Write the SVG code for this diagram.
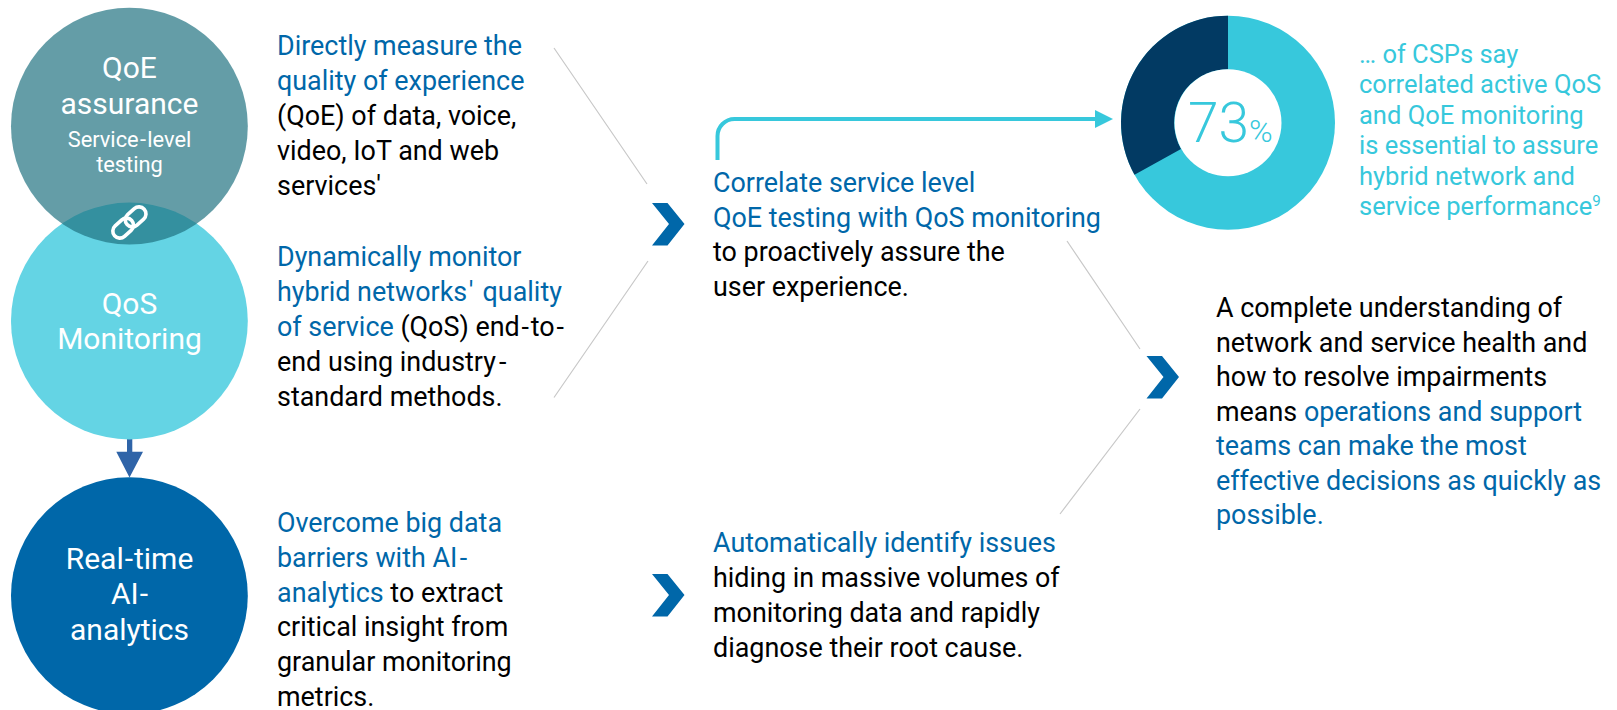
<svg xmlns="http://www.w3.org/2000/svg" width="1617" height="710" viewBox="0 0 1617 710">
<style>
text{font-family:Roboto,"Liberation Sans",sans-serif}
.b{font-size:26.9px;fill:#000}
.h{fill:#0067a9}
.c{font-size:25.5px;fill:#37c8dc}
.n{fill:#fff;text-anchor:middle;font-size:30px}
.s{fill:#fff;text-anchor:middle;font-size:21.800px}
.g{stroke:#c8c8c8;stroke-width:1.2;fill:none}
.v{fill:#0067a9}
</style>
<defs><path id="chev" d="M0 0H15.500L32.500 21L15.500 42.500H0L17 21Z"/></defs>
<g id="connectors">
<path class="g" d="M554 48L647 184M648 261L554 397.500M1067 241L1140 349M1140 409L1060 514"/>
<path d="M717.500 160V136A17 17 0 0 1 734.500 119H1096" fill="none" stroke="#37c8dc" stroke-width="4"/>
<path d="M1095 110L1113 119L1095 128Z" fill="#37c8dc"/>
<path d="M127 439H132.300V451.700H143L129.500 477.500L116.300 451.700H127Z" fill="#2f64a8"/>
</g>
<g id="node-qos"><circle cx="129.400" cy="321" r="118.400" fill="#64d4e4"/><text class="n" x="129.500" y="314">QoS</text><text class="n" x="129.500" y="349">Monitoring</text></g>
<g id="node-qoe"><circle cx="129.400" cy="126.200" r="118.400" fill="#1e717f" fill-opacity=".69"/><text class="n" x="129.500" y="78">QoE</text><text class="n" x="129.500" y="114">assurance</text><text class="s" x="129.500" y="147">Service<tspan dx="1.300">-</tspan><tspan dx="1.300">level</tspan></text><text class="s" x="129.500" y="172">testing</text>
<g fill="none" stroke="#fff" stroke-width="3.600" transform="rotate(-42 129.400 222.500)"><rect x="109.500" y="215.500" width="23" height="14" rx="7"/><rect x="126.300" y="215.500" width="23" height="14" rx="7"/></g></g>
<g id="node-ai"><circle cx="129.400" cy="595.700" r="118.400" fill="#0067a9"/><text class="n" x="129.500" y="569">Real<tspan dx="1">-</tspan><tspan dx="1">time</tspan></text><text class="n" x="129.500" y="604">AI<tspan dx="1">-</tspan></text><text class="n" x="129.500" y="640">analytics</text></g>
<g id="text-qoe"><text class="b" x="277" y="55"><tspan class="h">Directly measure the</tspan><tspan class="h" x="277" dy="35">quality of experience</tspan><tspan x="277" dy="35">(QoE) of data, voice,</tspan><tspan x="277" dy="35">video, IoT and web</tspan><tspan x="277" dy="35">services'</tspan></text></g>
<g id="text-qos"><text class="b" x="277" y="266"><tspan class="h">Dynamically monitor</tspan><tspan class="h" x="277" dy="35">hybrid networks<tspan dx="1.500">'</tspan><tspan dx="2.500"> quality</tspan></tspan><tspan x="277" dy="35"><tspan class="h">of service</tspan> (QoS) end<tspan dx="1.800">-</tspan><tspan dx="1.800">to</tspan><tspan dx="1.800">-</tspan></tspan><tspan x="277" dy="35">end using industry<tspan dx="3">-</tspan></tspan><tspan x="277" dy="35">standard methods.</tspan></text></g>
<g id="text-ai"><text class="b" x="277" y="532"><tspan class="h">Overcome big data</tspan><tspan class="h" x="277" dy="34.800">barriers with AI<tspan dx="2.500">-</tspan></tspan><tspan x="277" dy="34.800"><tspan class="h">analytics</tspan> to extract</tspan><tspan x="277" dy="34.800">critical insight from</tspan><tspan x="277" dy="34.800">granular monitoring</tspan><tspan x="277" dy="34.800">metrics.</tspan></text></g>
<g id="chevron-1"><use href="#chev" x="652" y="203" class="v"/></g>
<g id="chevron-2"><use href="#chev" x="652" y="574" class="v"/></g>
<g id="chevron-3"><use href="#chev" x="1146.500" y="356" class="v"/></g>
<g id="text-correlate"><text class="b" x="713" y="192"><tspan class="h">Correlate service level</tspan><tspan class="h" x="713" dy="34.700">QoE testing with QoS monitoring</tspan><tspan x="713" dy="34.700">to proactively assure the</tspan><tspan x="713" dy="34.700">user experience.</tspan></text></g>
<g id="text-identify"><text class="b" x="713" y="552"><tspan class="h">Automatically identify issues</tspan><tspan x="713" dy="35">hiding in massive volumes of</tspan><tspan x="713" dy="35">monitoring data and rapidly</tspan><tspan x="713" dy="35">diagnose their root cause.</tspan></text></g>
<g id="node-donut"><circle cx="1228" cy="122.700" r="107" fill="#37c8dc"/><path d="M1228 15.700A107 107 0 0 0 1134.500 174.700L1181 149A53.500 53.500 0 0 1 1228 69.200Z" fill="#023a63"/><circle cx="1228" cy="122.700" r="53.500" fill="#fff"/><text x="1188" y="142" font-size="55" fill="#37c8dc" font-weight="300">73<tspan font-size="32">%</tspan></text></g>
<g id="text-csp"><text class="c" x="1359" y="63">… of CSPs say<tspan x="1359" dy="30.400">correlated active QoS</tspan><tspan x="1359" dy="30.400">and QoE monitoring</tspan><tspan x="1359" dy="30.400">is essential to assure</tspan><tspan x="1359" dy="30.400">hybrid network and</tspan><tspan x="1359" dy="30.400">service performance<tspan font-size="15" dy="-9">9</tspan></tspan></text></g>
<g id="text-complete"><text class="b" x="1216" y="317.300">A complete understanding of<tspan x="1216" dy="34.500">network and service health and</tspan><tspan x="1216" dy="34.500">how to resolve impairments</tspan><tspan x="1216" dy="34.500">means <tspan class="h">operations and support</tspan></tspan><tspan class="h" x="1216" dy="34.500">teams can make the most</tspan><tspan class="h" x="1216" dy="34.500">effective decisions as quickly as</tspan><tspan class="h" x="1216" dy="34.500">possible.</tspan></text></g>
</svg>
